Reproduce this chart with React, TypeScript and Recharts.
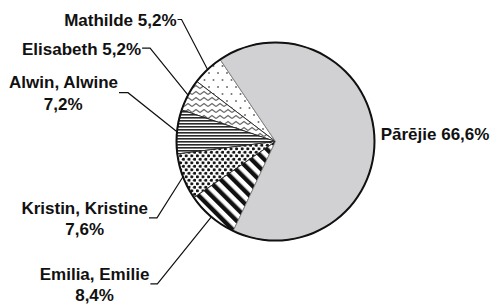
import React from 'react';
import { PieChart, Pie, Cell } from 'recharts';

// share of names, in percent
const names = ['Mathilde', 'Elisabeth', 'Alwin, Alwine', 'Kristin, Kristine', 'Emilia, Emilie', 'Pārējie'];
const shares = [5.2, 5.2, 7.2, 7.6, 8.4, 66.6];
const fills = ['url(#dotsSparse)', 'url(#zigzag)', 'url(#hStripes)', 'url(#dotsDense)', 'url(#diagStripes)', '#d1d1d3'];

// where each label sits: elbow offset from the slice edge, gap to the text
const labelLayout = [
  { side: 'left', dx: -26, dy: -50, gap: 5, wrap: false },
  { side: 'left', dx: -38, dy: -47, gap: 9, wrap: false },
  { side: 'left', dx: -49, dy: -39, gap: 10, wrap: true },
  { side: 'left', dx: -26, dy: 41, gap: 9, wrap: true },
  { side: 'left', dx: -54, dy: 67, gap: 8, wrap: true },
  { side: 'right', dx: 6.5, dy: 0, gap: 0, wrap: false },
];

const chartData = names.map((name, i) => ({ name, value: shares[i] }));
const ring = [{ name: 'outline', value: 1 }];

const FONT_SIZE = 17;
const FONT = `bold ${FONT_SIZE}px "Liberation Sans", Arial, sans-serif`;
const RAD = Math.PI / 180;

let ctx: CanvasRenderingContext2D | null = null;
const measure = (s: string) => {
  if (!ctx) {
    ctx = document.createElement('canvas').getContext('2d');
  }
  if (!ctx) return s.length * 9;
  ctx.font = FONT;
  return ctx.measureText(s).width;
};

const pct = (v: number) => `${v.toFixed(1).replace('.', ',')}%`;

const textStyle = {
  fontFamily: '"Liberation Sans", Arial, sans-serif',
  fontWeight: 700,
  fontSize: FONT_SIZE,
  fill: '#111',
};

const renderLabel = (props: any) => {
  const { cx, cy, midAngle, outerRadius, index } = props;
  const px = cx + outerRadius * Math.cos(-midAngle * RAD);
  const py = cy + outerRadius * Math.sin(-midAngle * RAD);
  const l = labelLayout[index];
  const name = names[index];
  const share = pct(shares[index]);

  if (l.side === 'right') {
    return (
      <text x={px + l.dx} y={py + l.dy + 5.8} textAnchor="start" style={textStyle}>
        {`${name} ${share}`}
      </text>
    );
  }

  const ex = px + l.dx;
  const ey = py + l.dy;
  const right = ex - l.gap;
  const line = (
    <polyline
      points={`${right + 1},${ey} ${ex},${ey} ${px},${py}`}
      fill="none"
      stroke="#111"
      strokeWidth={1.2}
    />
  );

  if (!l.wrap) {
    return (
      <g>
        {line}
        <text x={right} y={ey + 6.8} textAnchor="end" style={textStyle}>
          {`${name} ${share}`}
        </text>
      </g>
    );
  }

  const w = measure(name);
  const mid = right - w / 2;
  return (
    <g>
      {line}
      <text x={right} y={ey - 4.2} textAnchor="end" style={textStyle}>
        {name}
      </text>
      <text x={mid} y={ey + 17} textAnchor="middle" style={textStyle}>
        {share}
      </text>
    </g>
  );
};

const Patterns = () => (
  <svg width={0} height={0} style={{ position: 'absolute' }}>
    <defs>
      <pattern id="dotsSparse" width={9} height={14} patternUnits="userSpaceOnUse">
        <rect width={9} height={14} fill="#fff" />
        <circle cx={2} cy={3} r={1} fill="#707070" />
        <circle cx={6.5} cy={10} r={1} fill="#707070" />
      </pattern>
      <pattern id="zigzag" width={8} height={6} patternUnits="userSpaceOnUse">
        <rect width={8} height={6} fill="#fff" />
        <path d="M0,4.5 L4,1.5 L8,4.5" fill="none" stroke="#6a6a6a" strokeWidth={1.3} />
      </pattern>
      <pattern id="hStripes" width={4} height={3} patternUnits="userSpaceOnUse">
        <rect width={4} height={3} fill="#fff" />
        <rect width={4} height={1.6} fill="#2a2a2a" />
      </pattern>
      <pattern id="dotsDense" width={5.6} height={7} patternUnits="userSpaceOnUse">
        <rect width={5.6} height={7} fill="#fff" />
        <circle cx={1.4} cy={1.75} r={1.6} fill="#151515" />
        <circle cx={4.2} cy={5.25} r={1.6} fill="#151515" />
      </pattern>
      <pattern id="diagStripes" width={9} height={9} patternUnits="userSpaceOnUse" patternTransform="rotate(-45)">
        <rect width={9} height={9} fill="#fff" />
        <rect width={4.4} height={9} fill="#111" />
      </pattern>
    </defs>
  </svg>
);

export default function App() {
  return (
    <div style={{ position: 'absolute', left: 0, top: 0, width: 492, height: 304, background: '#fff' }}>
      <Patterns />
      <PieChart width={492} height={304} margin={{ top: 0, right: 0, bottom: 0, left: 0 }}>
        <Pie
          data={chartData}
          dataKey="value"
          nameKey="name"
          cx={275.5}
          cy={141.5}
          outerRadius={99}
          startAngle={124}
          endAngle={484}
          label={renderLabel}
          labelLine={false}
          isAnimationActive={false}
        >
          {chartData.map((d, i) => (
            <Cell
              key={d.name}
              fill={fills[i]}
              stroke={i === chartData.length - 1 ? '#8a8a8a' : '#222'}
              strokeWidth={0.9}
            />
          ))}
        </Pie>
        <Pie
          data={ring}
          dataKey="value"
          cx={275.5}
          cy={141.5}
          innerRadius={98}
          outerRadius={100}
          fill="#111"
          stroke="none"
          label={false}
          labelLine={false}
          isAnimationActive={false}
        />
      </PieChart>
    </div>
  );
}
